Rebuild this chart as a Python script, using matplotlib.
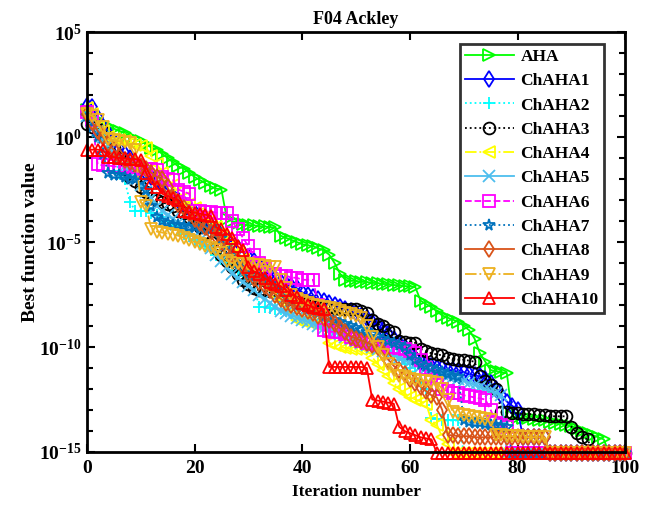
import numpy as np
import matplotlib
matplotlib.use("Agg")
import matplotlib.pyplot as plt
from matplotlib.ticker import FixedLocator, FixedFormatter, NullFormatter

plt.rcParams['font.family'] = ['Liberation Serif', 'DejaVu Serif']
plt.rcParams['font.weight'] = 'bold'
plt.rcParams['mathtext.fontset'] = 'custom'
plt.rcParams['mathtext.rm'] = 'Liberation Serif:bold'
plt.rcParams['mathtext.bf'] = 'Liberation Serif:bold'
plt.rcParams['mathtext.it'] = 'Liberation Serif:bold:italic'
plt.rcParams['mathtext.default'] = 'rm'

iterations = np.arange(101)
FLOOR = -15.05  # log10 of 8.88e-16, the numerical optimum of Ackley

# best-so-far values, stored as log10
aha = [1.3, 1.0, 0.8, 0.6, 0.5, 0.4, 0.3, 0.2, 0.0, -0.1,
       -0.2, -0.35, -0.5, -0.62, -0.8, -1.0, -1.2, -1.4, -1.5, -1.7,
       -1.9, -2.05, -2.2, -2.35, -2.45, -2.5, -3.9, -4.0, -4.1, -4.15,
       -4.2, -4.2, -4.25, -4.25, -4.3, -4.3, -4.7, -4.8, -4.9, -5.0,
       -5.1, -5.15, -5.2, -5.3, -5.4, -5.6, -6.0, -6.5, -6.8, -6.85,
       -6.85, -6.9, -6.9, -6.95, -6.95, -7.0, -7.0, -7.05, -7.05, -7.1,
       -7.1, -7.15, -7.8, -7.95, -8.1, -8.3, -8.5, -8.6, -8.7, -8.8,
       -9.0, -9.2, -9.6, -10.3, -10.7, -11.1, -11.15, -11.2, -11.25, -13.3,
       -13.35, -13.4, -13.4, -13.45, -13.5, -13.5, -13.55, -13.6, -13.65, -13.7,
       -13.75, -13.9, -14.0, -14.1, -14.2, -14.3, -14.4, FLOOR, FLOOR, FLOOR,
       FLOOR]
chaha1 = [1.5, 1.45, 0.9, 0.5, 0.2, -0.2, -0.5, -0.8, -1.0, -1.3,
          -1.5, -1.7, -1.9, -2.1, -2.3, -2.5, -2.8, -3.0, -3.2, -3.4,
          -3.6, -3.8, -4.0, -4.2, -4.4, -4.6, -4.8, -5.0, -5.3, -5.5,
          -5.7, -5.9, -6.1, -6.3, -6.5, -6.7, -6.9, -7.0, -7.1, -7.2,
          -7.4, -7.5, -7.6, -7.7, -7.8, -7.9, -8.0, -8.1, -8.2, -8.3,
          -8.4, -8.5, -8.6, -8.8, -9.0, -9.2, -9.4, -9.6, -9.8, -10.0,
          -10.3, -10.5, -10.7, -10.8, -10.9, -11.0, -11.0, -11.1, -11.1, -11.2,
          -11.2, -11.3, -11.35, -11.4, -11.5, -11.7, -12.0, -12.3, -12.6, -12.8,
          -13.0, -14.3, -14.3, -14.3, -14.3, -14.3, FLOOR, FLOOR, FLOOR, FLOOR,
          FLOOR, FLOOR, FLOOR, FLOOR, FLOOR, FLOOR, FLOOR, FLOOR, FLOOR, FLOOR,
          FLOOR]
chaha2 = [1.2, 0.8, 0.4, 0.0, -0.5, -1.0, -1.6, -2.0, -3.1, -3.5,
          -3.5, -3.5, -3.6, -3.7, -3.8, -4.0, -4.2, -4.4, -4.6, -4.7,
          -4.9, -5.0, -5.2, -5.4, -5.6, -5.8, -6.0, -6.2, -6.4, -6.6,
          -6.8, -7.0, -8.1, -8.1, -8.15, -8.2, -8.2, -8.3, -8.4, -8.5,
          -8.6, -8.7, -8.8, -8.9, -9.0, -9.1, -9.2, -9.3, -9.4, -9.5,
          -9.6, -9.7, -9.8, -9.9, -10.0, -10.1, -10.2, -10.4, -10.6, -10.8,
          -11.0, -11.3, -11.6, -12.0, -13.4, -13.45, -13.5, -13.5, -13.5, -13.5,
          FLOOR, FLOOR, FLOOR, FLOOR, FLOOR, FLOOR, FLOOR, FLOOR, FLOOR, FLOOR,
          FLOOR, FLOOR, FLOOR, FLOOR, FLOOR, FLOOR, FLOOR, FLOOR, FLOOR, FLOOR,
          FLOOR, FLOOR, FLOOR, FLOOR, FLOOR, FLOOR, FLOOR, FLOOR, FLOOR, FLOOR,
          FLOOR]
chaha3 = [0.6, 0.5, 0.4, 0.3, 0.0, -0.5, -1.0, -1.5, -1.9, -2.1,
          -2.4, -2.6, -2.9, -3.0, -3.1, -3.2, -3.3, -3.5, -3.6, -3.8,
          -4.0, -4.3, -4.6, -5.0, -5.3, -5.6, -5.9, -6.2, -6.5, -6.8,
          -7.0, -7.2, -7.3, -7.3, -7.35, -7.4, -7.5, -7.6, -7.7, -7.8,
          -7.9, -7.95, -8.0, -8.05, -8.1, -8.1, -8.15, -8.2, -8.2, -8.2,
          -8.2, -8.3, -8.4, -8.7, -8.9, -9.0, -9.2, -9.3, -9.7, -9.75,
          -9.8, -9.8, -10.1, -10.2, -10.3, -10.35, -10.4, -10.5, -10.55, -10.6,
          -10.6, -10.65, -10.7, -11.4, -11.6, -11.8, -12.0, -13.1, -13.1, -13.15,
          -13.15, -13.2, -13.2, -13.2, -13.25, -13.25, -13.3, -13.3, -13.3, -13.3,
          -13.8, -14.1, -14.3, -14.4, FLOOR, FLOOR, FLOOR, FLOOR, FLOOR, FLOOR,
          FLOOR]
chaha4 = [1.4, 1.1, 0.5, 0.3, 0.0, -0.1, -0.15, -0.2, -0.3, -0.4,
          -0.45, -0.5, -0.9, -1.3, -1.7, -2.0, -2.3, -2.6, -2.9, -3.2,
          -3.4, -3.6, -3.8, -4.0, -4.3, -4.6, -4.9, -5.2, -5.5, -5.8,
          -6.0, -6.3, -6.6, -6.9, -7.2, -7.5, -7.8, -8.0, -8.3, -8.7,
          -8.75, -8.8, -8.9, -8.95, -9.0, -9.8, -9.9, -10.0, -10.05, -10.1,
          -10.1, -10.1, -10.1, -10.5, -10.8, -11.1, -11.4, -11.7, -12.0, -12.2,
          -12.4, -12.5, -12.6, -12.7, -13.5, -13.7, -14.3, -14.6, FLOOR, FLOOR,
          FLOOR, FLOOR, FLOOR, FLOOR, FLOOR, FLOOR, FLOOR, FLOOR, FLOOR, FLOOR,
          FLOOR, FLOOR, FLOOR, FLOOR, FLOOR, FLOOR, FLOOR, FLOOR, FLOOR, FLOOR,
          FLOOR, FLOOR, FLOOR, FLOOR, FLOOR, FLOOR, FLOOR, FLOOR, FLOOR, FLOOR,
          FLOOR]
chaha5 = [1.0, 0.7, 0.3, 0.0, -0.4, -0.8, -1.1, -1.4, -1.7, -2.0,
          -2.3, -2.6, -2.9, -3.3, -3.5, -3.7, -3.9, -4.1, -4.3, -4.5,
          -4.7, -4.9, -5.1, -5.3, -5.6, -5.9, -6.2, -6.5, -6.7, -6.9,
          -7.1, -7.3, -7.5, -7.7, -7.9, -8.1, -8.3, -8.4, -8.5, -8.6,
          -8.7, -8.8, -8.9, -9.0, -9.1, -9.2, -9.3, -9.4, -9.5, -9.6,
          -9.7, -9.8, -9.9, -10.0, -10.1, -10.2, -10.3, -10.4, -10.5, -10.6,
          -10.7, -10.8, -10.9, -11.0, -11.1, -11.2, -11.3, -11.4, -11.45, -11.5,
          -11.6, -11.7, -11.8, -11.9, -12.0, -12.1, -12.2, -12.3, FLOOR, FLOOR,
          FLOOR, FLOOR, FLOOR, FLOOR, FLOOR, FLOOR, FLOOR, FLOOR, FLOOR, FLOOR,
          FLOOR, FLOOR, FLOOR, FLOOR, FLOOR, FLOOR, FLOOR, FLOOR, FLOOR, FLOOR,
          FLOOR]
chaha6 = [1.2, 0.8, -1.3, -1.35, -1.35, -1.4, -1.4, -1.4, -1.45, -1.45,
          -1.5, -1.5, -1.5, -1.55, -1.9, -2.0, -2.05, -2.5, -2.6, -2.7,
          -3.5, -3.5, -3.55, -3.55, -3.6, -3.6, -3.6, -4.0, -4.4, -4.8,
          -5.2, -5.6, -6.0, -6.3, -6.5, -6.5, -6.6, -6.6, -6.7, -6.7,
          -6.8, -6.8, -6.8, -8.0, -9.2, -9.25, -9.3, -9.3, -9.4, -9.5,
          -9.6, -9.7, -9.8, -9.85, -9.9, -9.95, -10.0, -10.0, -10.05, -10.1,
          -10.2, -10.3, -10.6, -11.0, -11.4, -11.8, -12.0, -12.1, -12.2, -12.2,
          -12.3, -12.35, -12.4, -12.45, -12.5, -13.0, -13.6, -13.7, -13.8, FLOOR,
          FLOOR, FLOOR, FLOOR, FLOOR, FLOOR, FLOOR, FLOOR, FLOOR, FLOOR, FLOOR,
          FLOOR, FLOOR, FLOOR, FLOOR, FLOOR, FLOOR, FLOOR, FLOOR, FLOOR, FLOOR,
          FLOOR]
chaha7 = [1.0, 0.5, 0.0, -0.8, -1.7, -1.8, -1.8, -1.9, -2.0, -2.0,
          -2.1, -2.5, -3.3, -3.8, -4.0, -4.1, -4.2, -4.2, -4.25, -4.3,
          -4.3, -4.35, -4.4, -4.4, -4.45, -4.8, -5.2, -5.6, -6.0, -6.3,
          -6.5, -6.6, -6.7, -6.8, -7.0, -7.2, -7.4, -7.6, -7.8, -8.0,
          -8.1, -8.2, -8.3, -8.4, -8.5, -8.6, -8.7, -8.8, -8.9, -9.0,
          -9.1, -9.2, -9.3, -9.4, -9.5, -9.6, -9.7, -9.8, -9.9, -10.0,
          -10.4, -10.6, -10.8, -10.9, -11.0, -11.1, -11.2, -11.3, -11.4, -11.45,
          -13.5, -13.55, -13.6, -13.6, -13.65, -13.7, -13.7, -13.75, -13.8, FLOOR,
          FLOOR, FLOOR, FLOOR, FLOOR, FLOOR, FLOOR, FLOOR, FLOOR, FLOOR, FLOOR,
          FLOOR, FLOOR, FLOOR, FLOOR, FLOOR, FLOOR, FLOOR, FLOOR, FLOOR, FLOOR,
          FLOOR]
chaha8 = [1.1, 0.7, 0.3, 0.0, -0.3, -0.6, -0.9, -1.1, -1.2, -1.3,
          -1.4, -1.5, -1.7, -1.9, -2.0, -2.4, -2.9, -3.2, -3.4, -3.6,
          -3.9, -4.1, -4.3, -4.5, -4.7, -5.0, -5.3, -5.6, -5.9, -6.2,
          -6.5, -6.7, -6.9, -7.1, -7.3, -7.5, -7.7, -7.9, -8.0, -8.1,
          -8.2, -8.3, -8.4, -8.5, -8.6, -8.7, -8.9, -9.1, -9.3, -9.5,
          -9.6, -9.7, -9.8, -9.9, -10.0, -10.3, -10.6, -10.9, -11.1, -11.3,
          -11.5, -11.7, -11.9, -12.1, -12.3, -12.4, -13.0, -14.2, -14.2, -14.25,
          -14.25, -14.25, -14.3, -14.3, -14.3, -14.3, -14.3, -14.3, -14.3, -14.3,
          -14.3, -14.3, -14.3, -14.3, -14.3, -14.3, FLOOR, FLOOR, FLOOR, FLOOR,
          FLOOR, FLOOR, FLOOR, FLOOR, FLOOR, FLOOR, FLOOR, FLOOR, FLOOR, FLOOR,
          FLOOR]
chaha9 = [1.1, 1.0, 0.8, 0.5, -0.1, -0.15, -0.2, -0.25, -0.3, -0.6,
          -3.1, -3.3, -4.4, -4.5, -4.55, -4.6, -4.65, -4.7, -4.8, -4.9,
          -5.0, -5.1, -5.2, -5.3, -5.4, -5.5, -5.9, -6.0, -6.0, -6.05,
          -6.05, -6.1, -6.1, -6.15, -6.2, -6.2, -6.8, -7.2, -7.5, -7.7,
          -7.8, -7.9, -8.0, -8.05, -8.1, -8.15, -8.2, -8.3, -8.4, -8.45,
          -8.5, -8.6, -9.0, -9.5, -10.0, -10.4, -10.8, -11.1, -11.4, -11.45,
          -11.5, -11.55, -11.6, -11.6, -11.65, -11.7, -12.0, -12.5, -13.1, -13.2,
          -13.25, -13.3, -13.35, -13.4, -13.45, -13.5, -14.2, -14.2, -14.25, -14.25,
          -14.25, -14.3, -14.3, -14.3, -14.3, -14.3, FLOOR, FLOOR, FLOOR, FLOOR,
          FLOOR, FLOOR, FLOOR, FLOOR, FLOOR, FLOOR, FLOOR, FLOOR, FLOOR, FLOOR,
          FLOOR]
chaha10 = [-0.6, -0.6, -0.6, -0.62, -0.95, -0.95, -1.0, -1.0, -1.05, -1.05,
           -1.1, -1.7, -2.2, -2.4, -2.7, -2.8, -2.9, -3.0, -3.5, -3.55,
           -3.6, -3.65, -3.7, -3.75, -4.3, -4.4, -4.6, -4.8, -5.2, -5.4,
           -6.2, -6.4, -6.5, -6.7, -6.9, -7.0, -7.1, -7.3, -7.5, -7.6,
           -7.9, -8.0, -8.1, -8.15, -8.2, -10.95, -10.95, -10.95, -10.95, -10.95,
           -10.95, -10.95, -11.0, -12.5, -12.55, -12.6, -12.65, -12.7, -13.8, -14.0,
           -14.1, -14.2, -14.3, -14.35, -14.4, FLOOR, FLOOR, FLOOR, FLOOR, FLOOR,
           FLOOR, FLOOR, FLOOR, FLOOR, FLOOR, FLOOR, FLOOR, FLOOR, FLOOR, FLOOR,
           FLOOR, FLOOR, FLOOR, FLOOR, FLOOR, FLOOR, FLOOR, FLOOR, FLOOR, FLOOR,
           FLOOR, FLOOR, FLOOR, FLOOR, FLOOR, FLOOR, FLOOR, FLOOR, FLOOR, FLOOR,
           FLOOR]

names = ['AHA', 'ChAHA1', 'ChAHA2', 'ChAHA3', 'ChAHA4', 'ChAHA5',
         'ChAHA6', 'ChAHA7', 'ChAHA8', 'ChAHA9', 'ChAHA10']
curves = [aha, chaha1, chaha2, chaha3, chaha4, chaha5,
          chaha6, chaha7, chaha8, chaha9, chaha10]
colors = ['#00FF00', '#0000FF', '#00FFFF', '#000000', '#FFFF00', '#4DBEEE',
          '#FF00FF', '#0072BD', '#D95319', '#EDB120', '#FF0000']
styles = ['-', '-', ':', ':', '-.', '-', '--', ':', '-', '-.', '-']
markers = ['>', 'd', '+', 'o', '<', 'x', 's', '*', 'd', 'v', '^']

fig = plt.figure(figsize=(6.48, 5.09), dpi=100)
ax = fig.add_axes([0.134, 0.112, 0.831, 0.825])

for name, vals, c, ls, m in zip(names, curves, colors, styles, markers):
    ax.semilogy(iterations, 10.0 ** np.array(vals), linestyle=ls, color=c,
                marker=m, markersize=8.5, markerfacecolor='none',
                markeredgewidth=1.3, linewidth=1.3, label=name, clip_on=False)

ax.set_xlim(0, 100)
ax.set_ylim(1e-15, 1e5)
ax.set_xticks([0, 20, 40, 60, 80, 100])
major_y = [1e-15, 1e-10, 1e-5, 1e0, 1e5]
ax.yaxis.set_major_locator(FixedLocator(major_y))
ax.yaxis.set_major_formatter(FixedFormatter([r'$10^{-15}$', r'$10^{-10}$',
                                             r'$10^{-5}$', r'$10^{0}$', r'$10^{5}$']))
ax.yaxis.set_minor_locator(FixedLocator([10.0 ** k for k in range(-15, 6)]))
ax.yaxis.set_minor_formatter(NullFormatter())

ax.tick_params(which='both', direction='in', top=True, right=True,
               labelsize=14, width=1.5)
ax.tick_params(which='major', length=6)
ax.tick_params(which='minor', length=4)
ax.tick_params(axis='x', pad=6)
for sp in ax.spines.values():
    sp.set_linewidth(2.0)

ax.set_xlabel('Iteration number', fontsize=12.5, fontweight='bold', labelpad=5)
ax.set_ylabel('Best function value', fontsize=14, fontweight='bold', labelpad=0)
ax.set_title('F04 Ackley', fontsize=13, fontweight='bold', pad=6)

leg = ax.legend(loc='upper right', bbox_to_anchor=(0.97, 0.985), fontsize=12.5,
                frameon=True, fancybox=False, edgecolor='black',
                handlelength=2.8, borderpad=0.3, labelspacing=0.47,
                handletextpad=0.4, borderaxespad=0.3)
leg.get_frame().set_linewidth(2.0)
leg.set_zorder(5)

fig.savefig('out.png', dpi=100, facecolor='white')
